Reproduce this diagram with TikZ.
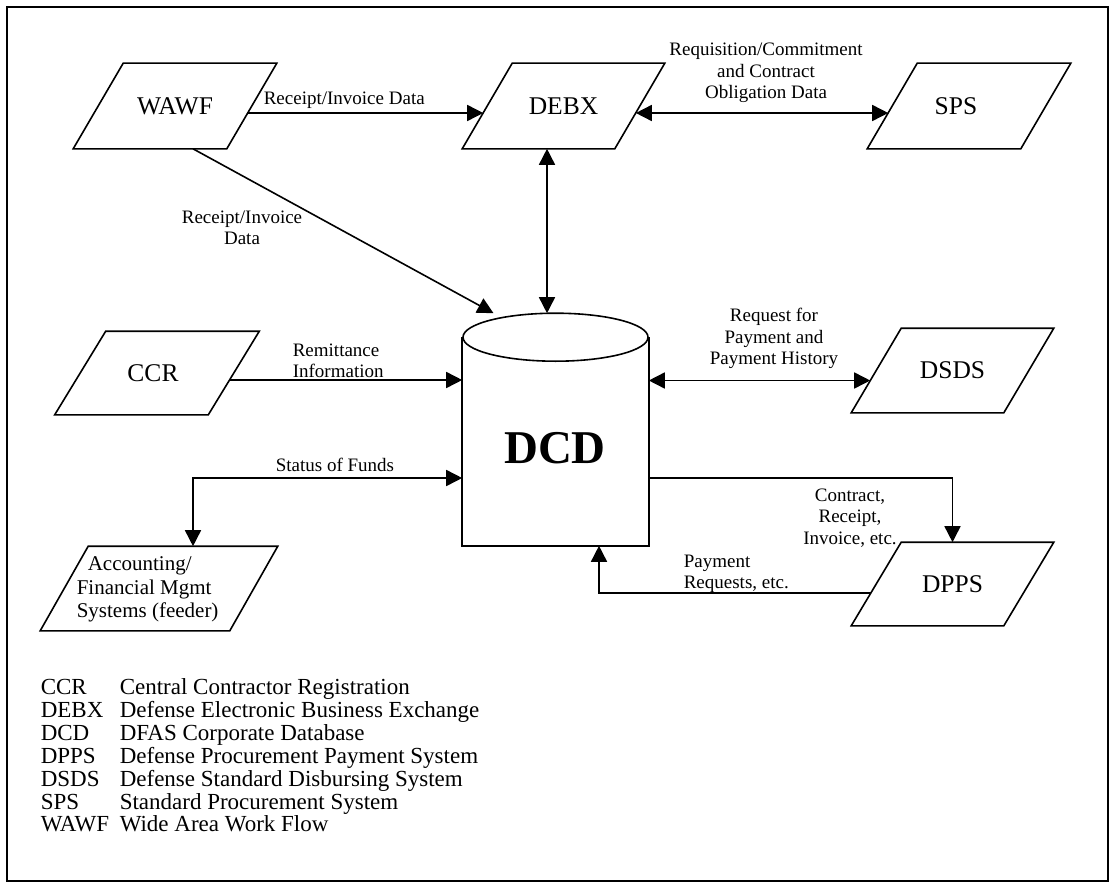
\documentclass[tikz,border=0pt]{standalone}
\usepackage{fontspec}
\setmainfont{Liberation Serif}
\usetikzlibrary{arrows.meta,calc}
\newcommand\paral[2]{\draw ([xshift=#2]#1.north west) -- ([xshift=#2]#1.north east) -- ([xshift=-#2]#1.south east) -- ([xshift=-#2]#1.south west) -- cycle;}
\begin{document}
\begin{tikzpicture}[x=1pt,y=-1pt,
  line width=1.6pt,
  box/.style={draw=none, minimum width=152pt, minimum height=84pt, inner sep=0pt, font=\fontsize{25.5}{28}\selectfont},
  boxtext/.style={inner sep=0pt, font=\fontsize{25.5}{28}\selectfont},
  lab/.style={font=\fontsize{19}{21.5}\selectfont, inner sep=0pt, align=center},
  arr/.style={-{Triangle[length=16pt,width=16pt]}},
  darr/.style={{Triangle[length=16pt,width=16pt]}-{Triangle[length=16pt,width=16pt]}}
]
\useasboundingbox (0,0) rectangle (1115,888);
\draw (7,7) rectangle (1108,881);

% boxes
\node[box] (WAWF) at (175,106) {WAWF};
\node[box, minimum width=151pt] (DEBX) at (563.5,106) {DEBX};
\node[box] (SPS) at (969,106) {};
\node[boxtext] (SPSt) at (956,106) {SPS};
\node[box, minimum height=82pt] (CCR) at (157,373) {};
\node[boxtext] (CCRt) at (153,373) {CCR};
\node[box, minimum width=151pt, minimum height=83pt] (DSDS) at (952.5,370.5) {DSDS};
\node[box, minimum width=151pt, minimum height=82pt] (DPPS) at (952.5,584) {DPPS};
\node[box, minimum width=188pt, minimum height=83pt] (ACC) at (159,588.5) {};
\node[anchor=north west, align=left, inner sep=0pt, font=\fontsize{21}{23.5}\selectfont] (ACCt) at (76,556)
  {\hspace{11pt}Accounting/\\Financial Mgmt\\Systems (feeder)};

\paral{WAWF}{25pt}
\paral{DEBX}{25pt}
\paral{SPS}{25pt}
\paral{CCR}{25.5pt}
\paral{DSDS}{25pt}
\paral{DPPS}{25pt}
\paral{ACC}{24pt}

% DCD cylinder
\node[minimum width=185pt, minimum height=231pt, inner sep=0pt] (DCD) at (555.5,429.5) {};
\draw ([yshift=-24pt]DCD.north west) -- (DCD.south west) -- (DCD.south east) -- ([yshift=-24pt]DCD.north east);
\draw ([yshift=-24pt]DCD.north) ellipse [x radius=92.5, y radius=24];
\node[inner sep=0pt, font=\bfseries\fontsize{47}{50}\selectfont] (DCDt) at (555,448) {DCD};

% connectors
\coordinate (w1) at ([shift={(-4,7)}]WAWF.east);
\draw[arr] (w1) -- ([shift={(-4,7)}]DEBX.west);
\draw[darr] ([shift={(-4,7)}]DEBX.east) -- ([shift={(-4,7)}]SPS.west);
\coordinate (d1) at ([xshift=-16.5pt]DEBX.south);
\draw[darr] (d1) -- (d1 |- DCD.north);
\draw[arr] ([xshift=18pt]WAWF.south) -- ([xshift=-62pt]DCD.north);
\coordinate (c1) at ([shift={(-4,7)}]CCR.east);
\draw[arr] (c1) -- (c1 -| DCD.west);
\coordinate (s1) at ([shift={(-6,10)}]DSDS.west);
\draw[darr] (s1 -| DCD.east) -- (s1);
\coordinate (a1) at ([xshift=34pt]ACC.north);
\coordinate (a2) at ([shift={(0,48.5)}]DCD.west);
\draw[darr] (a1) |- (a2);
\coordinate (p1) at ([shift={(0,48.5)}]DCD.east);
\draw[arr] (p1) -| (DPPS.north);
\coordinate (p2) at ([shift={(-5,9)}]DPPS.west);
\draw[arr] (p2) -| ([xshift=43.5pt]DCD.south);

% labels
\node[lab, anchor=west] (l1) at (263,100) {Receipt/Invoice Data};
\node[lab] (l2) at (766,73) {Requisition/Commitment\\and Contract\\Obligation Data};
\node[lab] (l3) at (242,228) {Receipt/Invoice\\Data};
\node[lab, align=left, anchor=west] (l4) at (292,361) {Remittance\\Information};
\node[lab] (l5) at (335,465) {Status of Funds};
\node[lab] (l6) at (774,338.5) {Request for\\Payment and\\Payment History};
\node[lab] (l7) at (850,518) {Contract,\\Receipt,\\Invoice, etc.};
\node[lab, align=left, anchor=west] (l8) at (683,574) {Payment\\Requests, etc.};

% legend
\node[anchor=north west, inner sep=0pt, font=\fontsize{23}{22.5}\selectfont] (legend) at (40,678) {%
\begin{tabular}{@{}p{79pt}@{}l@{}}
CCR & Central Contractor Registration\\
DEBX & Defense Electronic Business Exchange\\
DCD & DFAS Corporate Database\\
DPPS & Defense Procurement Payment System\\
DSDS & Defense Standard Disbursing System\\
SPS & Standard Procurement System\\
WAWF & Wide Area Work Flow
\end{tabular}};
\end{tikzpicture}
\end{document}
